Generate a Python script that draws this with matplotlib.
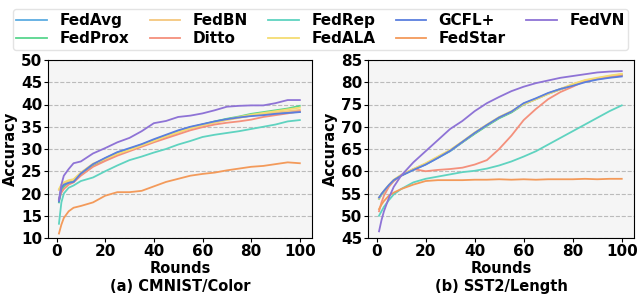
import matplotlib
matplotlib.use('Agg')
import matplotlib.pyplot as plt

plt.rcParams['font.family'] = 'DejaVu Sans'
plt.rcParams['font.weight'] = 'bold'

rounds = [1, 2, 3, 5, 7, 10, 15, 20, 25, 30, 35, 40, 45, 50, 55, 60, 65, 70, 75, 80, 85, 90, 95, 100]

methods = ['FedAvg', 'FedProx', 'FedBN', 'Ditto', 'FedRep', 'FedALA', 'GCFL+', 'FedStar', 'FedVN']
colors = ['#5DADE2', '#58D68D', '#F5C77E', '#F4907C', '#5FD3C0', '#F4DC72', '#5B7FDE', '#F39A5A', '#8E73D6']

# (a) CMNIST/Color
cmnist = {
    'FedAvg':  [18.5, 21.0, 21.8, 22.4, 22.6, 24.4, 26.5, 27.9, 29.2, 30.0, 31.0, 32.0, 33.0, 34.0, 34.9, 35.5, 36.1, 36.7, 37.1, 37.5, 37.8, 38.0, 38.2, 38.3],
    'FedProx': [18.0, 20.5, 21.5, 22.5, 22.8, 24.3, 26.3, 27.6, 28.9, 29.8, 30.8, 31.8, 32.8, 33.8, 34.8, 35.5, 36.2, 36.8, 37.3, 37.9, 38.3, 38.7, 39.1, 39.7],
    'FedBN':   [20.8, 21.8, 22.3, 22.8, 23.1, 24.6, 26.6, 27.7, 28.8, 29.7, 30.7, 31.7, 32.7, 33.7, 34.6, 35.3, 35.9, 36.5, 37.0, 37.5, 37.9, 38.2, 38.5, 38.8],
    'Ditto':   [18.8, 20.2, 21.0, 22.0, 22.5, 24.0, 26.0, 27.3, 28.5, 29.5, 30.5, 31.5, 32.4, 33.3, 34.2, 34.9, 35.5, 35.9, 36.2, 36.6, 37.2, 37.6, 38.0, 38.5],
    'FedRep':  [13.2, 18.0, 20.0, 21.3, 21.8, 22.8, 23.6, 25.0, 26.3, 27.5, 28.3, 29.2, 30.0, 31.0, 31.8, 32.7, 33.2, 33.6, 34.0, 34.5, 35.0, 35.5, 36.2, 36.5],
    'FedALA':  [21.0, 22.0, 22.5, 23.0, 23.2, 24.7, 26.7, 27.8, 28.9, 29.8, 30.8, 31.8, 32.9, 33.8, 34.7, 35.4, 36.0, 36.6, 37.2, 37.7, 38.1, 38.5, 38.9, 39.3],
    'GCFL+':   [18.2, 21.3, 22.0, 22.4, 22.6, 24.5, 26.6, 28.0, 29.3, 30.2, 31.1, 32.2, 33.2, 34.2, 35.0, 35.6, 36.2, 36.7, 37.1, 37.4, 37.6, 37.9, 38.1, 38.3],
    'FedStar': [11.0, 13.0, 14.5, 16.0, 16.8, 17.2, 18.0, 19.5, 20.3, 20.3, 20.6, 21.6, 22.6, 23.3, 24.0, 24.4, 24.7, 25.2, 25.6, 26.0, 26.2, 26.6, 27.0, 26.8],
    'FedVN':   [18.5, 22.0, 24.0, 25.5, 26.8, 27.2, 29.0, 30.2, 31.5, 32.5, 34.0, 35.8, 36.3, 37.2, 37.5, 38.0, 38.7, 39.5, 39.7, 39.8, 39.8, 40.3, 41.0, 41.0],
}

# (b) SST2/Length
sst2 = {
    'FedAvg':  [54.0, 54.8, 55.5, 56.8, 58.0, 59.0, 60.3, 61.5, 63.0, 64.5, 66.5, 68.5, 70.3, 72.0, 73.3, 75.2, 76.3, 77.5, 78.5, 79.3, 80.2, 80.7, 81.1, 81.5],
    'FedProx': [53.8, 54.7, 55.4, 56.7, 57.9, 59.0, 60.4, 61.6, 63.1, 64.6, 66.5, 68.4, 70.2, 71.9, 73.2, 75.0, 76.2, 77.4, 78.4, 79.4, 80.3, 80.8, 81.3, 81.7],
    'FedBN':   [53.9, 54.8, 55.5, 56.8, 58.0, 59.1, 60.5, 61.7, 63.2, 64.7, 66.6, 68.6, 70.4, 72.1, 73.4, 75.1, 76.2, 77.4, 78.4, 79.5, 80.4, 80.9, 81.4, 81.8],
    'Ditto':   [51.0, 53.0, 54.5, 56.5, 57.8, 59.0, 60.5, 60.0, 60.3, 60.5, 60.8, 61.5, 62.5, 65.0, 68.0, 71.5, 74.0, 76.2, 77.8, 79.0, 80.3, 80.8, 81.2, 81.5],
    'FedRep':  [50.0, 51.0, 52.0, 53.5, 54.8, 56.0, 57.5, 58.3, 58.8, 59.3, 59.8, 60.1, 60.6, 61.3, 62.2, 63.3, 64.5, 66.0, 67.5, 69.0, 70.5, 72.0, 73.5, 74.8],
    'FedALA':  [54.1, 54.9, 55.6, 56.9, 58.1, 59.2, 60.5, 61.8, 63.3, 64.8, 66.7, 68.7, 70.5, 72.2, 73.5, 75.1, 76.2, 77.4, 78.5, 79.6, 80.5, 81.0, 81.5, 81.9],
    'GCFL+':   [54.1, 54.9, 55.6, 56.9, 58.0, 59.0, 60.3, 61.5, 63.0, 64.6, 66.6, 68.6, 70.4, 72.1, 73.4, 75.3, 76.4, 77.6, 78.5, 79.2, 80.0, 80.6, 81.0, 81.3],
    'FedStar': [51.5, 52.5, 53.3, 54.5, 55.2, 56.0, 57.0, 57.8, 58.0, 58.0, 58.0, 58.1, 58.1, 58.2, 58.1, 58.2, 58.1, 58.2, 58.2, 58.2, 58.3, 58.2, 58.3, 58.3],
    'FedVN':   [46.5, 49.0, 51.0, 54.0, 56.5, 59.0, 62.0, 64.5, 67.0, 69.5, 71.3, 73.5, 75.3, 76.7, 78.0, 79.0, 79.8, 80.4, 81.0, 81.4, 81.8, 82.2, 82.4, 82.5],
}

fig = plt.figure(figsize=(6.4, 2.94), dpi=100)
ax1 = fig.add_axes([48/640, 56/294, 264/640, 178/294])
ax2 = fig.add_axes([368/640, 56/294, 266/640, 178/294])

panels = [(ax1, cmnist, (10, 50), '(a) CMNIST/Color'),
          (ax2, sst2, (45, 85), '(b) SST2/Length')]

for ax, data, ylim, caption in panels:
    ax.set_facecolor('#F5F5F5')
    for m, c in zip(methods, colors):
        ax.plot(rounds, data[m], color=c, lw=1.3, label=m)
    ax.set_ylim(*ylim)
    ax.set_xlim(-3.5, 105)
    ax.set_yticks(range(ylim[0], ylim[1] + 1, 5))
    ax.set_xticks([0, 20, 40, 60, 80, 100])
    ax.yaxis.grid(True, linestyle='--', color='#BBBBBB', lw=0.8)
    ax.set_axisbelow(True)
    ax.tick_params(labelsize=11, length=3, pad=1)
    for lab in ax.get_xticklabels() + ax.get_yticklabels():
        lab.set_fontweight('bold')
    ax.set_ylabel('Accuracy', fontsize=10.5, fontweight='bold', labelpad=2)
    ax.set_xlabel('Rounds\n' + caption, fontsize=10.5, fontweight='bold', labelpad=2,
                  linespacing=1.2)

handles, labels = ax1.get_legend_handles_labels()
fig.legend(handles, labels, loc='upper left', ncol=5, bbox_to_anchor=(5/640, 0.995, 631/640, 0),
           mode='expand', frameon=True, handlelength=2.0, handletextpad=0.8, borderpad=0.25,
           labelspacing=0.2, prop={'weight': 'bold', 'size': 11}, edgecolor='#DDDDDD')

fig.savefig('out.png', dpi=100)
